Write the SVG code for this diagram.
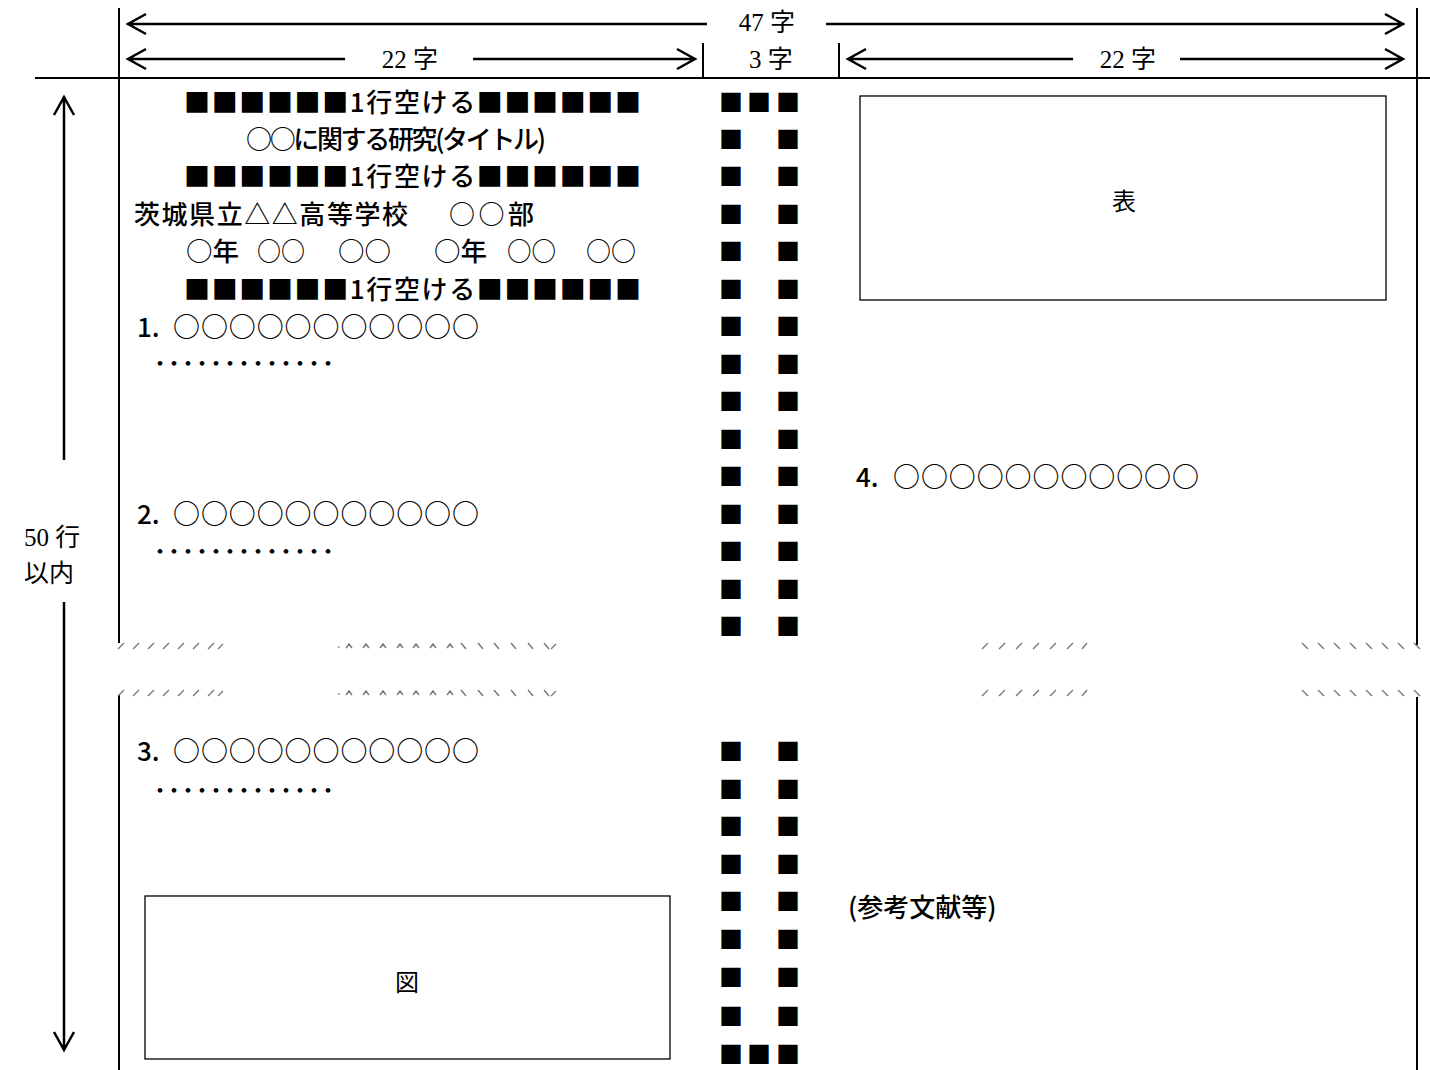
<svg xmlns="http://www.w3.org/2000/svg" xmlns:xlink="http://www.w3.org/1999/xlink" width="1430" height="1070" viewBox="0 0 1430 1070">
<style>
.t{font-family:"Noto Sans CJK JP","Noto Sans",sans-serif;font-size:26px;font-weight:500;fill:#000;dominant-baseline:central}
.c{font-family:"Noto Sans CJK JP",sans-serif;font-size:27px;font-weight:500;fill:#000;dominant-baseline:central}
.n{font-family:"Noto Sans CJK JP",sans-serif;font-size:24px;font-weight:normal;fill:#000;dominant-baseline:central;text-anchor:middle}
.d{font-family:"Noto Sans CJK JP",sans-serif;font-size:24px;font-weight:bold;fill:#000;dominant-baseline:central}
.s{font-family:"Liberation Serif","Noto Sans CJK JP",serif;font-size:25px;fill:#000;dominant-baseline:central}
.sq{font-family:"Noto Sans CJK JP",sans-serif;font-size:24px;fill:#000;dominant-baseline:central;text-anchor:middle}
.ln{stroke:#000;stroke-width:2;fill:none}
.ar{stroke:#000;stroke-width:2.5;fill:none}
.bx{stroke:#000;stroke-width:1.3;fill:#fff}
.br{stroke:#777;stroke-width:1.4;fill:none}
</style>
<rect width="1430" height="1070" fill="#fff"/>
<g id="frame">
<path class="ln" d="M119 8V643M119 695V1070M1417 8V645M1417 697V1070M35 78H1430M703 43V78M839 43V78"/>
</g>
<g id="connectors">
<path class="ar" d="M128 24H707M826 24H1403M146 14L128 24L146 34M1385 14L1403 24L1385 34"/>
<path class="ar" d="M128 59H345M473 59H695M146 49L128 59L146 69M677 49L695 59L677 69"/>
<path class="ar" d="M848 59H1073M1180 59H1403M866 49L848 59L866 69M1385 49L1403 59L1385 69"/>
<path class="ar" d="M64 97V460M64 602V1050M54 115L64 97L74 115M54 1032L64 1050L74 1032"/>
</g>
<g id="labels">
<text class="s" x="767" y="22" text-anchor="middle">47 字</text>
<text class="s" x="410" y="59" text-anchor="middle">22 字</text>
<text class="s" x="771" y="59" text-anchor="middle">3 字</text>
<text class="s" x="1128" y="59" text-anchor="middle">22 字</text>
<text class="s" x="24" y="537">50 行</text>
<text class="s" x="24" y="573">以内</text>
</g>
<g id="breaks">
<g id="brk" class="br">
<path d="M118 649l6-6M133 649l6-6M148 649l6-6M163 649l6-6M178 649l6-6M193 649l6-6M208 649l6-6M218 649l5-5"/>
<path d="M338 647h1.5M346 648l3-4l3 4M363 648l3-4l3 4M380 648l3-4l3 4M397 648l3-4l3 4M413 648l3-4l3 4M430 648l3-4l3 4M447 648l3-4l3 4"/>
<path d="M461 643l5 6M478 643l5 6M494 643l5 6M511 643l5 6M528 643l5 6M544 643l5 6M551 649l5-5"/>
<path d="M982 649l6-6M999 649l6-6M1016 649l6-6M1033 649l6-6M1050 649l6-6M1067 649l6-6M1082 649l5-6"/>
<path d="M1302 643l6 6M1318 643l6 6M1334 643l6 6M1350 643l6 6M1366 643l6 6M1382 643l6 6M1398 643l6 6M1414 643l6 6"/>
</g>
<use xlink:href="#brk" y="47"/>
</g>
<g id="center-column">
<text class="sq" y="100"><tspan x="731">■</tspan><tspan x="759">■</tspan><tspan x="788">■</tspan></text>
<text class="sq"><tspan x="731" y="137">■</tspan><tspan x="788" y="137">■</tspan><tspan x="731" y="174">■</tspan><tspan x="788" y="174">■</tspan><tspan x="731" y="212">■</tspan><tspan x="788" y="212">■</tspan><tspan x="731" y="249">■</tspan><tspan x="788" y="249">■</tspan><tspan x="731" y="287">■</tspan><tspan x="788" y="287">■</tspan><tspan x="731" y="324">■</tspan><tspan x="788" y="324">■</tspan><tspan x="731" y="362">■</tspan><tspan x="788" y="362">■</tspan><tspan x="731" y="399">■</tspan><tspan x="788" y="399">■</tspan><tspan x="731" y="437">■</tspan><tspan x="788" y="437">■</tspan><tspan x="731" y="474">■</tspan><tspan x="788" y="474">■</tspan><tspan x="731" y="512">■</tspan><tspan x="788" y="512">■</tspan><tspan x="731" y="549">■</tspan><tspan x="788" y="549">■</tspan><tspan x="731" y="587">■</tspan><tspan x="788" y="587">■</tspan><tspan x="731" y="624">■</tspan><tspan x="788" y="624">■</tspan></text>
<text class="sq"><tspan x="731" y="749">■</tspan><tspan x="788" y="749">■</tspan><tspan x="731" y="787">■</tspan><tspan x="788" y="787">■</tspan><tspan x="731" y="824">■</tspan><tspan x="788" y="824">■</tspan><tspan x="731" y="862">■</tspan><tspan x="788" y="862">■</tspan><tspan x="731" y="899">■</tspan><tspan x="788" y="899">■</tspan><tspan x="731" y="937">■</tspan><tspan x="788" y="937">■</tspan><tspan x="731" y="975">■</tspan><tspan x="788" y="975">■</tspan><tspan x="731" y="1014">■</tspan><tspan x="788" y="1014">■</tspan></text>
<text class="sq" y="1052"><tspan x="731">■</tspan><tspan x="759">■</tspan><tspan x="788">■</tspan></text>
</g>
<g id="left-column">
<text class="t" x="184" y="100" textLength="457" lengthAdjust="spacing">■■■■■■1行空ける■■■■■■</text>
<text class="t" x="246" y="137" textLength="300" lengthAdjust="spacing">○○に関する研究(タイトル)</text>
<text class="t" x="184" y="174" textLength="457" lengthAdjust="spacing">■■■■■■1行空ける■■■■■■</text>
<text class="t" x="134" y="212" textLength="274" lengthAdjust="spacing">茨城県立△△高等学校</text>
<text class="t" x="449" y="212" textLength="85" lengthAdjust="spacing">○○部</text>
<text class="t" x="186" y="249" textLength="53" lengthAdjust="spacingAndGlyphs">○年</text>
<text class="t" x="257" y="249" textLength="48" lengthAdjust="spacingAndGlyphs">○○</text>
<text class="t" x="338" y="249" textLength="53" lengthAdjust="spacingAndGlyphs">○○</text>
<text class="t" x="434" y="249" textLength="53" lengthAdjust="spacingAndGlyphs">○年</text>
<text class="t" x="507" y="249" textLength="49" lengthAdjust="spacingAndGlyphs">○○</text>
<text class="t" x="586" y="249" textLength="50" lengthAdjust="spacingAndGlyphs">○○</text>
<text class="t" x="184" y="287" textLength="457" lengthAdjust="spacing">■■■■■■1行空ける■■■■■■</text>
<text class="t" x="137" y="325">1.</text>
<text class="c" x="173" y="325" textLength="306" lengthAdjust="spacing">○○○○○○○○○○○</text>
<text class="d" x="154" y="361" textLength="180" lengthAdjust="spacing">･････････････</text>
<text class="t" x="137" y="512">2.</text>
<text class="c" x="173" y="512" textLength="306" lengthAdjust="spacing">○○○○○○○○○○○</text>
<text class="d" x="154" y="549" textLength="180" lengthAdjust="spacing">･････････････</text>
<text class="t" x="137" y="749">3.</text>
<text class="c" x="173" y="749" textLength="306" lengthAdjust="spacing">○○○○○○○○○○○</text>
<text class="d" x="154" y="788" textLength="180" lengthAdjust="spacing">･････････････</text>
</g>
<g id="fig">
<rect class="bx" x="145" y="896" width="525" height="163"/>
<text class="n" x="407" y="980">図</text>
</g>
<g id="table">
<rect class="bx" x="860" y="96" width="526" height="204"/>
<text class="n" x="1124" y="199">表</text>
</g>
<g id="right-column">
<text class="t" x="856" y="475">4.</text>
<text class="c" x="893" y="475" textLength="306" lengthAdjust="spacing">○○○○○○○○○○○</text>
<text class="t" x="848" y="905">(参考文献等)</text>
</g>
</svg>
